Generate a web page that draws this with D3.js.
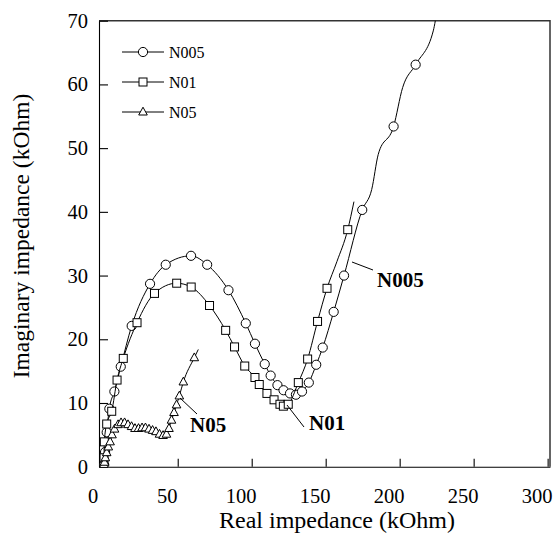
<!DOCTYPE html>
<html>
<head>
<meta charset="utf-8">
<script src="https://cdn.jsdelivr.net/npm/d3@7"></script>
<style>
  body { margin: 0; background: #fff; }
  svg text { font-family: "Liberation Serif", "Times New Roman", serif; fill: #000; }
</style>
</head>
<body>
<svg id="chart" width="553" height="547"></svg>
<script>
// [real (kOhm), imaginary (kOhm), marker shown?]
const n005 = [
  [0.3, 0.3, 1], [0.9, 2.3, 1], [2.0, 5.4, 1], [3.8, 9.1, 1], [7.2, 11.8, 1],
  [11.5, 15.7, 1], [18.9, 22.1, 1], [31.3, 28.7, 1], [41.9, 31.7, 1], [59.0, 33.1, 1],
  [69.9, 31.7, 1], [84.3, 27.7, 1], [96.0, 22.5, 1], [102.2, 19.3, 1], [108.8, 16.1, 1],
  [112.8, 14.3, 1], [117.4, 12.8, 1], [121.5, 12.0, 1], [125.9, 11.5, 1], [129.9, 11.3, 1],
  [134.0, 11.8, 1], [138.6, 13.2, 1], [143.6, 16.0, 1], [148.0, 18.7, 1], [155.4, 24.3, 1],
  [162.4, 30.0, 1], [174.7, 40.3, 1], [181.1, 43.5, 0], [185.5, 49.0, 0], [195.9, 53.4, 1],
  [202.0, 59.5, 0], [210.8, 63.1, 1], [222.7, 68.4, 0], [225.5, 72.0, 0]
];
const n01 = [
  [0.2, 1.4, 1], [0.4, 3.9, 1], [2.0, 6.7, 1], [5.4, 8.7, 1], [9.0, 13.6, 1],
  [13.2, 17.0, 1], [22.5, 22.6, 1], [34.3, 27.2, 1], [49.3, 28.8, 1], [59.1, 28.2, 1],
  [71.5, 25.3, 1], [82.4, 21.4, 1], [88.4, 18.8, 1], [95.3, 15.8, 1], [102.2, 14.0, 1],
  [105.1, 12.9, 1], [110.3, 11.5, 1], [115.1, 10.5, 1], [119.1, 9.8, 1], [121.4, 9.5, 1],
  [124.7, 9.8, 1], [131.5, 13.2, 1], [137.8, 16.9, 1], [144.5, 22.8, 1], [150.9, 28.0, 1],
  [157.6, 32.2, 0], [164.9, 37.2, 1], [169.1, 41.6, 0]
];
const n05 = [
  [0.1, 0.3, 1], [0.5, 0.7, 1], [1.1, 1.4, 1], [2.0, 2.2, 1], [3.1, 3.1, 1],
  [4.3, 3.9, 1], [5.6, 5.0, 1], [7.3, 5.9, 1], [9.7, 6.6, 1], [11.7, 6.9, 1],
  [14.1, 6.9, 1], [16.4, 6.6, 1], [18.8, 6.3, 1], [21.1, 6.0, 1], [23.5, 6.0, 1],
  [25.9, 6.1, 1], [28.2, 6.1, 1], [30.6, 5.9, 1], [33.0, 5.7, 1], [35.3, 5.5, 1],
  [37.7, 5.1, 1], [40.1, 4.9, 1], [42.4, 5.1, 1], [44.1, 6.0, 1], [45.8, 7.3, 1],
  [47.5, 8.5, 1], [49.2, 9.7, 1], [51.1, 11.1, 1], [53.8, 13.3, 1], [61.2, 17.1, 1],
  [63.9, 18.4, 0]
];

const seriesNames = ['N005', 'N01', 'N05'];
const seriesShapes = ['circle', 'square', 'triangle'];
const xTicks = [0, 50, 100, 150, 200, 250, 300];
const yTicks = [0, 10, 20, 30, 40, 50, 60, 70];

const LEFT = 99, RIGHT = 550, TOP = 20.7, BOTTOM = 466.7;

const svg = d3.select('#chart');
svg.append('rect').attr('width', 553).attr('height', 547).attr('fill', '#fff');

const x = d3.scaleLinear().domain([-3.2, 301.6]).range([LEFT, RIGHT]);
const y = d3.scaleLinear().domain([0, 70]).range([BOTTOM, TOP]);

// frame top / right
svg.append('path')
  .attr('d', `M${LEFT},${TOP}H${RIGHT}V${BOTTOM}`)
  .attr('fill', 'none').attr('stroke', '#333').attr('stroke-width', 1.5);

// axes with inward ticks
const xAxis = svg.append('g')
  .attr('transform', `translate(0,${BOTTOM})`)
  .call(d3.axisBottom(x).tickValues(xTicks).tickSizeInner(-8).tickSizeOuter(0).tickPadding(22));
xAxis.selectAll('text').attr('dx', -11);

const yAxis = svg.append('g')
  .attr('transform', `translate(${LEFT},0)`)
  .call(d3.axisLeft(y).tickValues(yTicks).tickSizeInner(-9).tickSizeOuter(0).tickPadding(11));

[xAxis, yAxis].forEach((g) => {
  g.selectAll('text').style('font-size', '20.5px').style('font-family', '"Liberation Serif", serif').attr('fill', '#000');
  g.selectAll('line, path').attr('stroke', '#000').attr('stroke-width', 1.1);
});

svg.append('text')
  .attr('x', 337).attr('y', 528)
  .attr('text-anchor', 'middle')
  .style('font-size', '24px')
  .text('Real impedance (kOhm)');

svg.append('text')
  .attr('transform', 'translate(29,236) rotate(-90)')
  .attr('text-anchor', 'middle')
  .style('font-size', '23.5px')
  .text('Imaginary impedance (kOhm)');

// clip for curves
svg.append('clipPath').attr('id', 'plot-clip')
  .append('rect').attr('x', LEFT).attr('y', TOP).attr('width', RIGHT - LEFT).attr('height', BOTTOM - TOP);

function drawMarker(g, shape, cx, cy) {
  if (shape === 'circle') {
    g.append('circle').attr('cx', cx).attr('cy', cy).attr('r', 4.6);
  } else if (shape === 'square') {
    g.append('rect').attr('x', cx - 4).attr('y', cy - 4).attr('width', 8).attr('height', 8);
  } else {
    g.append('path').attr('d', `M${cx},${cy - 4.8}L${cx + 4.3},${cy + 3}L${cx - 4.3},${cy + 3}Z`);
  }
}

const line = d3.line()
  .x(d => x(d[0]))
  .y(d => y(d[1]))
  .curve(d3.curveMonotoneX);

const plot = svg.append('g').attr('clip-path', 'url(#plot-clip)');
[n005, n01, n05].forEach((data, i) => {
  plot.append('path')
    .attr('d', line(data))
    .attr('fill', 'none').attr('stroke', '#000').attr('stroke-width', 1);
  const marks = plot.append('g').attr('fill', '#fff').attr('stroke', '#000').attr('stroke-width', 1);
  data.filter(d => d[2]).forEach((d) => drawMarker(marks, seriesShapes[i], x(d[0]), y(d[1])));
});

// legend
const legend = svg.append('g');
seriesNames.forEach((name, i) => {
  const ly = 52 + i * 30;
  legend.append('line').attr('x1', 122).attr('x2', 164).attr('y1', ly).attr('y2', ly)
    .attr('stroke', '#000').attr('stroke-width', 1);
  const m = legend.append('g').attr('fill', '#fff').attr('stroke', '#000');
  drawMarker(m, seriesShapes[i], 143, ly);
  legend.append('text').attr('x', 169).attr('y', ly + 5.5).style('font-size', '16px').text(name);
});

// callouts
const callouts = [
  { name: 'N005', tx: 377, ty: 287, x1: 352, y1: 262, x2: 373, y2: 270 },
  { name: 'N01', tx: 309, ty: 430, x1: 287, y1: 405, x2: 304, y2: 427 },
  { name: 'N05', tx: 190, ty: 432, x1: 180, y1: 398, x2: 197, y2: 414 },
];
callouts.forEach((c) => {
  svg.append('line').attr('x1', c.x1).attr('y1', c.y1).attr('x2', c.x2).attr('y2', c.y2)
    .attr('stroke', '#000').attr('stroke-width', 1);
  svg.append('text').attr('x', c.tx).attr('y', c.ty)
    .style('font-size', '21px').style('font-weight', 'bold').text(c.name);
});
</script>
</body>
</html>
